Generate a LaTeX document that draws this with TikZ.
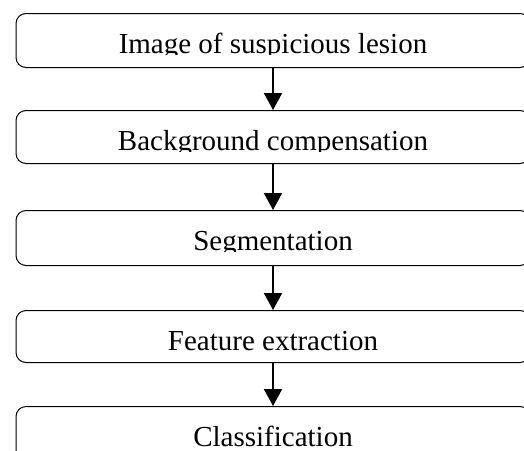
\documentclass[tikz,border=0pt]{standalone}
\usepackage{fontspec}
\setmainfont{Liberation Serif}
\usetikzlibrary{arrows.meta,positioning}

\begin{document}
\begin{tikzpicture}[
  x=1pt, y=-1pt,
  stagebox/.style={draw=black, line width=1pt, rounded corners=10pt,
    minimum width=514pt, inner sep=0pt, anchor=north west},
  stagetext/.style={anchor=base, inner sep=0pt,
    font=\fontsize{29}{34}\selectfont},
  flow/.style={draw=black, line width=2pt,
    -{Triangle[width=18pt,length=17pt]}}
]
  \useasboundingbox (0,0) rectangle (524,450);

  % stage boxes (right side runs past the page edge)
  \node[stagebox, minimum height=54pt] (b1) at (15.5,13)  {};
  \node[stagebox, minimum height=53pt] (b2) at (15.5,110) {};
  \node[stagebox, minimum height=55pt] (b3) at (15.5,210) {};
  \node[stagebox, minimum height=52pt] (b4) at (15.5,310) {};
  \node[stagebox, minimum height=80pt] (b5) at (15.5,406) {};

  % captions, cut off just below the baseline
  \begin{scope}
    \clip (0,0) rectangle (524,54)
          (0,100) rectangle (524,151)
          (0,200) rectangle (524,251)
          (0,300) rectangle (524,351)
          (0,400) rectangle (524,447);
    \node[stagetext] (t1) at ([yshift=-40pt]b1.north) {Image of suspicious lesion};
    \node[stagetext] (t2) at ([yshift=-40pt]b2.north) {Background compensation};
    \node[stagetext] (t3) at ([yshift=-40pt]b3.north) {Segmentation};
    \node[stagetext] (t4) at ([yshift=-40pt]b4.north) {Feature extraction};
    \node[stagetext] (t5) at ([yshift=-40pt]b5.north) {Classification};
  \end{scope}

  % connectors
  \draw[flow] (b1.south) -- (b2.north);
  \draw[flow] (b2.south) -- (b3.north);
  \draw[flow] (b3.south) -- (b4.north);
  \draw[flow] (b4.south) -- (b5.north);
\end{tikzpicture}
\end{document}
